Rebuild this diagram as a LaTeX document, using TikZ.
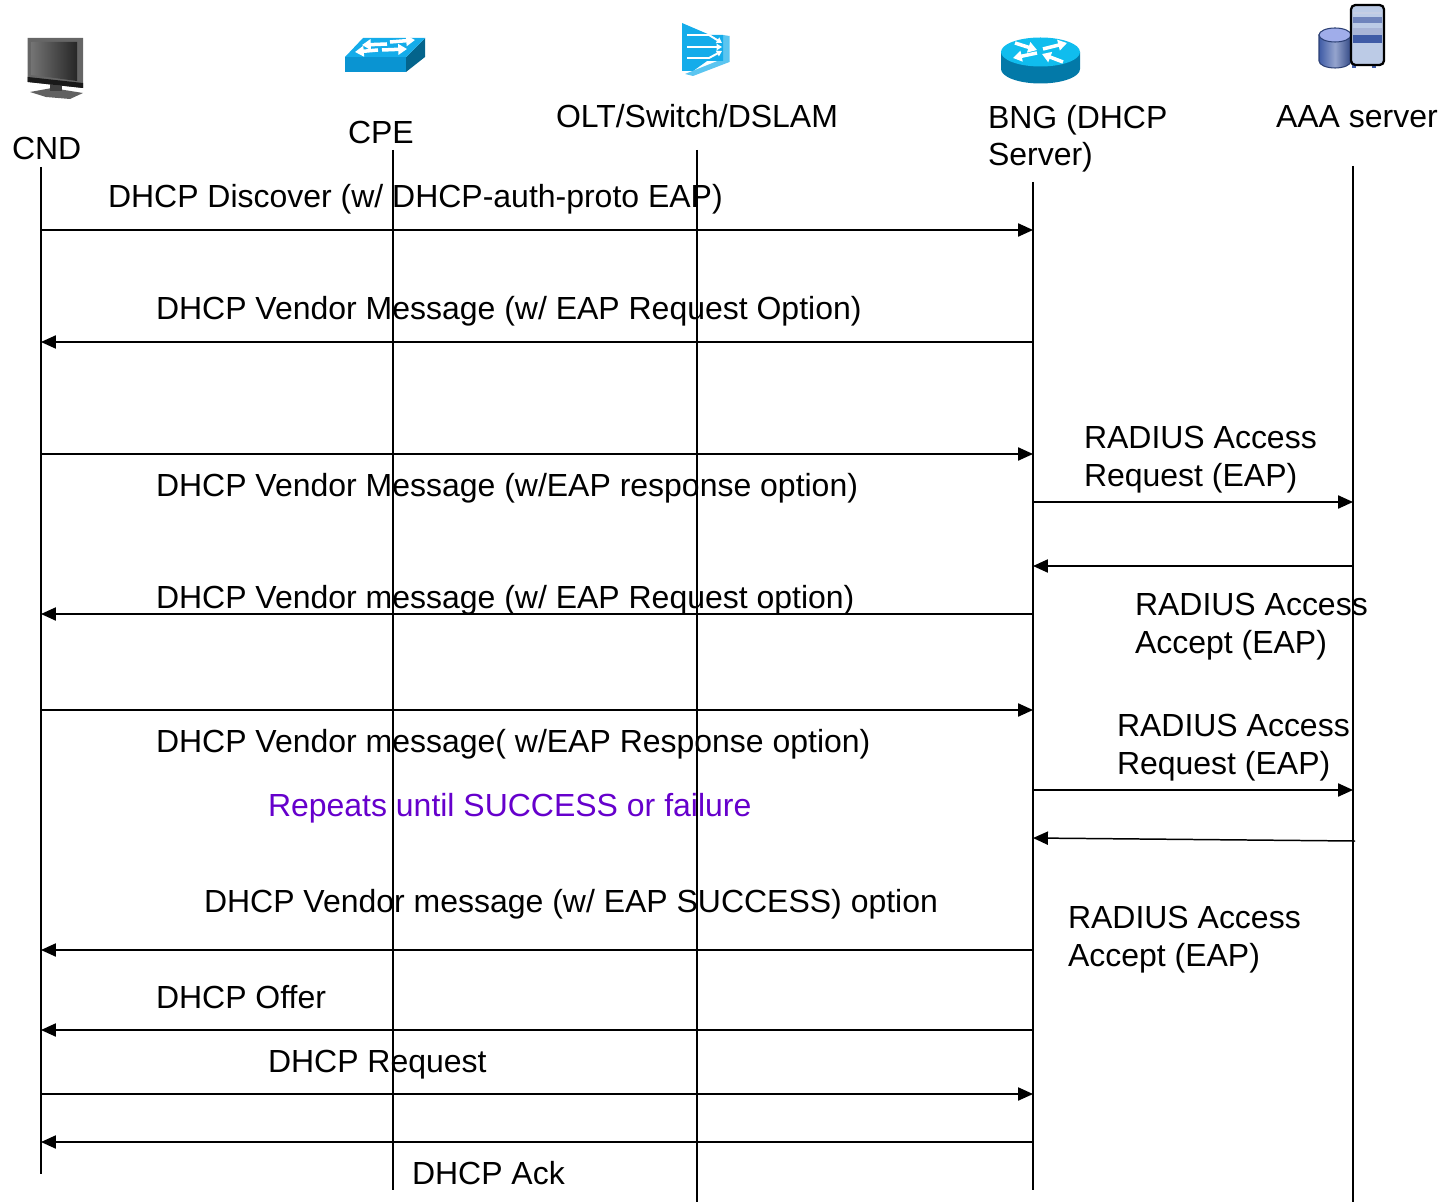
\documentclass[tikz,border=0pt]{standalone}
\usepackage{fontspec}
\setmainfont{Liberation Sans}
\usetikzlibrary{arrows.meta}
\definecolor{swblue}{HTML}{0A94D2}
\definecolor{swdark}{HTML}{04648C}
\definecolor{swtop}{HTML}{14ACEA}
\definecolor{rtdark}{HTML}{0379A8}
\definecolor{srvblue}{HTML}{3F5BA6}
\definecolor{srvpale}{HTML}{BCCBE6}
\definecolor{repeatcol}{HTML}{6600CC}
\tikzset{
  lbl/.style={anchor=base west,inner sep=0pt,align=left,xshift=-0.2pt,font=\fontsize{18.2}{21.6}\selectfont},
  life/.style={line width=0.85pt},
  msg/.style={line width=0.85pt,-{Triangle[length=8.5pt,width=7.5pt]}},
  wht/.style={white,line width=2pt,-{Triangle[length=5pt,width=6pt]}},
  thn/.style={white,line width=1.1pt,-{Triangle[length=3pt,width=3.5pt]}}
}
\begin{document}
\begin{tikzpicture}[x=0.02cm,y=-0.02cm]
\useasboundingbox (0,0) rectangle (1449,1202);

% icons
\fill[black!62] (30,92) -- (52,88) -- (83,93) -- (70,99) -- (46,97) -- cycle;
\fill[black!75] (50,84) rectangle (62,91);
\fill[black!60] (27.7,38) -- (83,38) -- (83,88) -- (27.7,82) -- cycle;
\shade[left color=black!55,right color=black!85] (31.7,42) -- (77,42) -- (77,81) -- (31.7,75) -- cycle;
\fill[black!90] (27.7,77) -- (83,83) -- (83,88) -- (27.7,82) -- cycle;

\fill[swblue] (345,57) -- (406,57) -- (406,72) -- (345,72) -- cycle;
\fill[swdark] (406,57) -- (425,38) -- (425,57) -- (406,72) -- cycle;
\fill[swtop] (345,57) -- (363,38) -- (425,38) -- (406,57) -- cycle;
\draw[wht] (387,44) -- (362,45);
\draw[wht] (390,42) -- (415,40);
\draw[wht] (378,50) -- (355,52);
\draw[wht] (382,50) -- (407,49);

\fill[swtop!70!white] (685,74) -- (725,58) -- (729.5,62) -- (693,76) -- cycle;
\fill[swtop!70!white] (723,35) -- (729.5,36) -- (729.5,62) -- (723,61) -- cycle;
\fill[swtop] (682,23) -- (710,35) -- (723,35) -- (723,61) -- (707,61) -- (693,71) -- (682,71) -- cycle;
\draw[thn] (687,35) -- (709,35) -- (722,43);
\draw[thn] (687,47) -- (722,47);
\draw[thn] (687,58) -- (709,58) -- (722,51);

\fill[rtdark] (1001,52) -- (1001,69) arc[start angle=180,end angle=360,x radius=39.5,y radius=-14.5] -- (1080,52) -- cycle;
\fill[swtop!80!cyan] (1040.5,52) ellipse[x radius=39.5,y radius=14.5];
\draw[wht] (1015,43) -- (1037,50);
\draw[wht] (1043,49) -- (1067,43);
\draw[wht] (1037,53) -- (1013,58);
\draw[wht] (1063,62) -- (1042,54);

\shade[left color=srvblue,right color=srvblue!80!black,middle color=srvblue!55!white,draw=srvblue!70!black,line width=0.6pt] (1319,35) -- (1319,61) arc[start angle=180,end angle=360,x radius=16,y radius=-7] -- (1351,35) -- cycle;
\fill[srvpale!85!blue,draw=srvblue!70!black,line width=0.6pt] (1335,35) ellipse[x radius=16,y radius=7];
\fill[srvblue] (1352,64) rectangle (1356,68);
\fill[srvblue] (1372,64) rectangle (1376,68);
\draw[black,line width=1.3pt,fill=srvpale,rounded corners=2.5pt] (1351,5) rectangle (1384,65);
\fill[srvblue!75] (1353,17) rectangle (1382,23);
\fill[srvblue!45] (1353,28) rectangle (1382,35);
\fill[srvblue] (1353,35) rectangle (1382,43);
\fill[srvblue!30] (1353,12) rectangle (1382,14);

% lifelines
\coordinate (cndtop) at (41,167);
\coordinate (cndend) at (41,1174);
\coordinate (cpetop) at (393,150);
\coordinate (cpeend) at (393,1190);
\coordinate (olttop) at (697,150);
\coordinate (oltend) at (697,1202);
\coordinate (bngtop) at (1033,182);
\coordinate (bngend) at (1033,1190);
\coordinate (aaatop) at (1353,166);
\coordinate (aaaend) at (1353,1202);
\draw[life] (cndtop) -- (cndend);
\draw[life] (cpetop) -- (cpeend);
\draw[life] (olttop) -- (oltend);
\draw[life] (bngtop) -- (bngend);
\draw[life] (aaatop) -- (aaaend);

% names
\node[lbl] (cnd) at (12,160) {CND};
\node[lbl] (cpe) at (348,144) {CPE};
\node[lbl] (olt) at (556,128) {OLT/Switch/DSLAM};
\node[lbl] (bng) at (988,166) {BNG (DHCP\\Server)};
\node[lbl] (aaa) at (1276,128) {AAA server};

% messages
\coordinate (m1) at (0,230);
\coordinate (m2) at (0,342);
\coordinate (m3) at (0,454);
\coordinate (m4) at (0,502);
\coordinate (m5) at (0,566);
\coordinate (m6) at (0,614);
\coordinate (m7) at (0,710);
\coordinate (m8) at (0,790);
\coordinate (m9a) at (1355,841);
\coordinate (m9b) at (1033,838);
\coordinate (m10) at (0,950);
\coordinate (m11) at (0,1030);
\coordinate (m12) at (0,1094);
\coordinate (m13) at (0,1142);
\draw[msg] (cndtop |- m1) -- (bngtop |- m1);
\draw[msg] (bngtop |- m2) -- (cndtop |- m2);
\draw[msg] (cndtop |- m3) -- (bngtop |- m3);
\draw[msg] (bngtop |- m4) -- (aaatop |- m4);
\draw[msg] (aaatop |- m5) -- (bngtop |- m5);
\draw[msg] (bngtop |- m6) -- (cndtop |- m6);
\draw[msg] (cndtop |- m7) -- (bngtop |- m7);
\draw[msg] (bngtop |- m8) -- (aaatop |- m8);
\draw[msg] (m9a) -- (m9b);
\draw[msg] (bngtop |- m10) -- (cndtop |- m10);
\draw[msg] (bngtop |- m11) -- (cndtop |- m11);
\draw[msg] (cndtop |- m12) -- (bngtop |- m12);
\draw[msg] (bngtop |- m13) -- (cndtop |- m13);

% message texts
\node[lbl] (t1) at (108,208) {DHCP Discover (w/ DHCP-auth-proto EAP)};
\node[lbl] (t2) at (156,320) {DHCP Vendor Message (w/ EAP Request Option)};
\node[lbl] (t3) at (156,496) {DHCP Vendor Message (w/EAP response option)};
\node[lbl] (t4) at (156,608) {DHCP Vendor message (w/ EAP Request option)};
\node[lbl] (t5) at (156,752) {DHCP Vendor message( w/EAP Response option)};
\node[lbl,text=repeatcol] (t6) at (268,816) {Repeats until SUCCESS or failure};
\node[lbl] (t7) at (204,912) {DHCP Vendor message (w/ EAP SUCCESS) option};
\node[lbl] (t8) at (156,1008) {DHCP Offer};
\node[lbl] (t9) at (268,1072) {DHCP Request};
\node[lbl] (t10) at (412,1184) {DHCP Ack};
\node[lbl] (r1) at (1084,486) {RADIUS Access\\Request (EAP)};
\node[lbl] (r2) at (1135,653) {RADIUS Access\\Accept (EAP)};
\node[lbl] (r3) at (1117,774) {RADIUS Access\\Request (EAP)};
\node[lbl] (r4) at (1068,966) {RADIUS Access\\Accept (EAP)};
\end{tikzpicture}
\end{document}
